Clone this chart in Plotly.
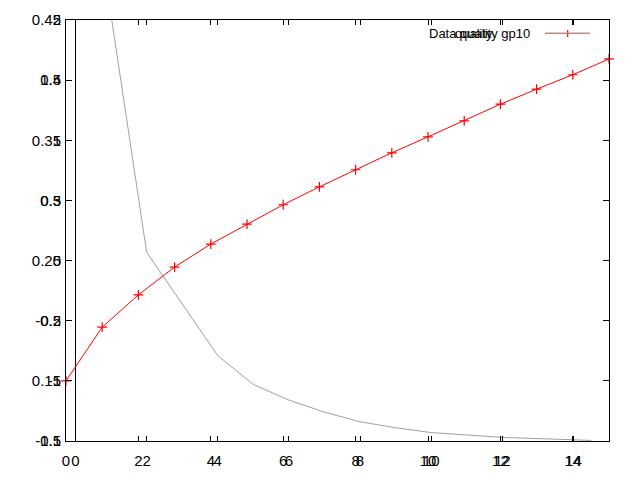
import plotly.graph_objects as go

# Red series ("quality"), plotted on the first pair of axes
red_x = [0, 1, 2, 3, 4, 5, 6, 7, 8, 9, 10, 11, 12, 13, 14, 15]
red_y = [-1.0, -0.554, -0.285, -0.054, 0.137, 0.303, 0.464, 0.613, 0.755,
         0.896, 1.029, 1.162, 1.300, 1.425, 1.545, 1.676]

# Gray series ("Data gp10"), plotted on the second, overlaid pair of axes
gray_x = [1, 2, 4, 5, 6, 7, 8, 9, 10, 11, 12, 13, 14, 14.5]
gray_y = [0.454, 0.257, 0.171, 0.147, 0.134, 0.124, 0.116, 0.111, 0.107,
          0.105, 0.103, 0.102, 0.101, 0.1005]

# Tick labels
x_ticks = [0, 2, 4, 6, 8, 10, 12, 14]
x_labels = ["0", "2", "4", "6", "8", "10", "12", "14"]
y1_ticks = [-1.5, -1, -0.5, 0, 0.5, 1, 1.5, 2]
y1_labels = ["-1.5", "-1", "-0.5", "0", "0.5", "1", "1.5", "2"]
y2_ticks = [0.1, 0.15, 0.2, 0.25, 0.3, 0.35, 0.4, 0.45]
y2_labels = ["0.1", "0.15", "0.2", "0.25", "0.3", "0.35", "0.4", "0.45"]

legend_labels = ["Data quality gp10", "quality"]

FONT = dict(family="Liberation Sans, Arial, sans-serif", size=15, color="black")

fig = go.Figure()
fig.add_trace(go.Scatter(
    x=red_x, y=red_y, mode="lines+markers", name="quality",
    line=dict(color="#ff0000", width=1),
    marker=dict(symbol="cross-thin", size=7, line=dict(color="#ff0000", width=1.2)),
    cliponaxis=False, xaxis="x", yaxis="y", showlegend=False))
fig.add_trace(go.Scatter(
    x=gray_x, y=gray_y, mode="lines", name="Data gp10",
    line=dict(color="#a0a0a0", width=1),
    xaxis="x2", yaxis="y2", showlegend=False))

common_x = dict(showline=True, linecolor="black", linewidth=1, mirror="allticks",
                ticks="inside", ticklen=5, tickcolor="black", tickwidth=1,
                showgrid=False, tickfont=FONT, tickvals=x_ticks, ticktext=x_labels,
                ticklabelstandoff=6, automargin=False)
common_y = dict(showline=True, linecolor="black", linewidth=1, mirror="allticks",
                ticks="inside", ticklen=6, tickcolor="black", tickwidth=1,
                showgrid=False, zeroline=False, tickfont=FONT, ticklabelstandoff=1,
                automargin=False)

fig.update_layout(
    width=640, height=480,
    margin=dict(l=66, r=31, t=20, b=39, pad=0, autoexpand=False),
    paper_bgcolor="white", plot_bgcolor="white",
    xaxis=dict(range=[0, 15], zeroline=False, **common_x),
    yaxis=dict(range=[-1.5, 2], tickvals=y1_ticks, ticktext=y1_labels, **common_y),
    xaxis2=dict(range=[-0.267, 15.0], overlaying="x", anchor="y2", side="bottom",
                zeroline=True, zerolinecolor="black", zerolinewidth=1, **common_x),
    yaxis2=dict(range=[0.1, 0.45], overlaying="y", anchor="x2", side="left",
                tickvals=y2_ticks, ticktext=y2_labels, **common_y),
    showlegend=False,
)

# Key (gnuplot style: text then sample), in paper coordinates of the plot area
def px_x(p):
    return (p - 66) / 543.0

def px_y(p):
    return (441 - p) / 421.0

fig.add_annotation(x=px_x(532), y=px_y(33), xref="paper", yref="paper",
                   text=legend_labels[0], showarrow=False, xanchor="right",
                   yanchor="middle", font=dict(FONT, size=13))
fig.add_annotation(x=px_x(495), y=px_y(33), xref="paper", yref="paper",
                   text=legend_labels[1], showarrow=False, xanchor="right",
                   yanchor="middle", font=dict(FONT, size=13))
# red linespoints sample (drawn first), then gray line sample on top
fig.add_shape(type="line", xref="paper", yref="paper",
              x0=px_x(545), x1=px_x(590), y0=px_y(33.3), y1=px_y(33.3),
              line=dict(color="#ff0000", width=1))
fig.add_shape(type="line", xref="paper", yref="paper",
              x0=px_x(567.7), x1=px_x(567.7), y0=px_y(30), y1=px_y(37),
              line=dict(color="#ff0000", width=1.2))
fig.add_shape(type="line", xref="paper", yref="paper",
              x0=px_x(545), x1=px_x(590), y0=px_y(33.3), y1=px_y(33.3),
              line=dict(color="#a0a0a0", width=1))

fig.write_html("out.html", config={"displayModeBar": False},
               post_script="document.body.style.margin='0';document.body.style.overflow='hidden';")
